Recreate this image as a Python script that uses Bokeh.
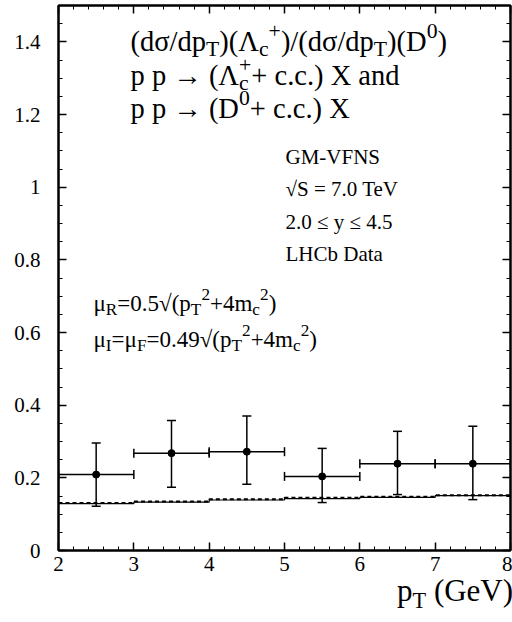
import glob
from bokeh.plotting import figure
from bokeh.models import (ColumnDataSource, Whisker, TeeHead, FixedTicker,
                          LinearAxis, Label, Range1d, Div)
from bokeh.layouts import column
from bokeh.embed import file_html
from bokeh.resources import INLINE

# ---------------- data ----------------
bin_lo = [2, 3, 4, 5, 6, 7]
bin_hi = [3, 4, 5, 6, 7, 8]
pt_center = [2.5, 3.5, 4.5, 5.5, 6.5, 7.5]
ratio = [0.209, 0.268, 0.272, 0.204, 0.239, 0.239]
err_up = [0.087, 0.090, 0.098, 0.077, 0.089, 0.103]
err_dn = [0.087, 0.094, 0.090, 0.072, 0.085, 0.099]

theory_edges = [2, 3, 4, 5, 6, 7, 8]
theory_solid = [0.129, 0.133, 0.139, 0.143, 0.146, 0.151]
theory_dashed = [0.131, 0.135, 0.141, 0.145, 0.148, 0.152]

x_ticks = [2, 3, 4, 5, 6, 7, 8]
x_tick_labels = ["2", "3", "4", "5", "6", "7", "8"]
y_ticks = [0, 0.2, 0.4, 0.6, 0.8, 1.0, 1.2, 1.4]
y_tick_labels = ["0", "0.2", "0.4", "0.6", "0.8", "1", "1.2", "1.4"]

FONT = "Liberation Serif"
X0, X1 = 2, 8
Y0, Y1 = 0, 1.5

# frame geometry (figure coords)
FL, FR, FT, FB = 58, 510, 5, 550
W, H = 512, 580

p = figure(width=W, height=H, output_backend="svg", toolbar_location=None,
           x_range=Range1d(X0, X1), y_range=Range1d(Y0, Y1),
           min_border_left=FL, min_border_right=W - FR, min_border_top=FT,
           min_border_bottom=H - FB)
p.grid.visible = False
p.background_fill_color = "white"
p.border_fill_color = "white"
p.outline_line_color = "black"
p.outline_line_width = 2

x_minor = [X0 + i * 0.2 for i in range(31)]
y_minor = [i * 0.05 for i in range(31)]


def style_axis(ax, ticks, minor, labels, show):
    ax.ticker = FixedTicker(ticks=ticks, minor_ticks=minor)
    ax.major_tick_in = 8
    ax.major_tick_out = 0
    ax.minor_tick_in = 4
    ax.minor_tick_out = 0
    ax.axis_line_color = "black"
    ax.axis_line_width = 2
    ax.major_tick_line_color = "black"
    ax.major_tick_line_width = 1.5
    ax.minor_tick_line_color = "black"
    ax.minor_tick_line_width = 1
    ax.major_label_text_font = FONT
    ax.major_label_text_font_style = "normal"
    ax.major_label_text_color = "black"
    if show:
        ax.major_label_overrides = {t: l for t, l in zip(ticks, labels)}
        ax.major_label_text_font_size = "21px"
    else:
        ax.major_label_overrides = {t: "" for t in ticks}
        ax.major_label_text_font_size = "0px"
        ax.major_label_standoff = 0


xa = p.xaxis[0]
ya = p.yaxis[0]
style_axis(xa, x_ticks, x_minor, x_tick_labels, True)
style_axis(ya, y_ticks, y_minor, y_tick_labels, True)
xa.major_label_standoff = 6
ya.major_label_standoff = 18

top = LinearAxis()
right = LinearAxis()
style_axis(top, x_ticks, x_minor, x_tick_labels, False)
style_axis(right, y_ticks, y_minor, y_tick_labels, False)
p.add_layout(top, "above")
p.add_layout(right, "right")

# ---------------- theory steps ----------------
p.step(theory_edges, theory_solid + [theory_solid[-1]], mode="after",
       line_color="black", line_width=1.2)
p.step(theory_edges, theory_dashed + [theory_dashed[-1]], mode="after",
       line_color="black", line_width=2, line_dash="4 3")

# ---------------- data points ----------------
src = ColumnDataSource(dict(
    x=pt_center, y=ratio, lo=bin_lo, hi=bin_hi,
    up=[r + e for r, e in zip(ratio, err_up)],
    dn=[r - e for r, e in zip(ratio, err_dn)]))

vw = Whisker(source=src, base="x", upper="up", lower="dn", dimension="height",
             line_color="black", line_width=1.5,
             upper_head=TeeHead(size=9, line_color="black", line_width=1.5),
             lower_head=TeeHead(size=9, line_color="black", line_width=1.5))
hw = Whisker(source=src, base="y", upper="hi", lower="lo", dimension="width",
             line_color="black", line_width=1.5,
             upper_head=TeeHead(size=9, line_color="black", line_width=1.5),
             lower_head=TeeHead(size=9, line_color="black", line_width=1.5))
p.add_layout(vw)
p.add_layout(hw)
p.scatter("x", "y", source=src, size=7, color="black")

# ---------------- rich text helpers ----------------
_font_path = None
for pat in ["/usr/share/fonts/**/LiberationSerif-Regular.ttf",
            "/usr/**/LiberationSerif-Regular.ttf"]:
    g = glob.glob(pat, recursive=True)
    if g:
        _font_path = g[0]
        break
_font_cache = {}


def text_width(t, size):
    try:
        from PIL import ImageFont
        key = round(size * 4)
        if key not in _font_cache:
            _font_cache[key] = ImageFont.truetype(_font_path, key)
        return _font_cache[key].getlength(t) / 4.0
    except Exception:
        return 0.5 * size * len(t)


PX_PER_X = (FR - FL) / (X1 - X0)
PX_PER_Y = (FB - FT) / (Y1 - Y0)


def page_to_data(px, py):
    return X0 + (px - FL) / PX_PER_X, Y0 + (FB - py) / PX_PER_Y


def rich(px, py, segs, size, ss=0.72):
    x, y = page_to_data(px, py)
    cur = 0.0
    for seg in segs:
        if isinstance(seg, str):
            t, kind, adv = seg, "n", True
        else:
            t, kind = seg[0], seg[1]
            adv = seg[2] if len(seg) > 2 else True
        if kind == "n":
            fs, dy = size, 0
        elif kind == "sub":
            fs, dy = size * ss, -0.28 * size
        else:
            fs, dy = size * ss, 0.38 * size
        p.add_layout(Label(x=x, y=y, x_offset=cur, y_offset=dy, text=t,
                           text_font=FONT, text_font_size=f"{fs:.1f}px",
                           text_color="black", text_baseline="alphabetic",
                           text_align="left"))
        if adv:
            cur += text_width(t, fs)


BIG = 28.5
rich(130, 41, ["(dσ/dp", ("T", "sub"), ")(Λ", ("c", "sub"), ("+", "sup"),
               ")/(dσ/dp", ("T", "sub"), ")(D", ("0", "sup"), ")"], BIG, 0.76)
rich(130, 75, ["p p → (Λ", ("c", "sub", False), ("+", "sup"),
               " + c.c.) X and"], BIG, 0.76)
rich(130, 108, ["p p → (D", ("0", "sup"), "+ c.c.) X"], BIG, 0.76)

SMALL = 21
rich(285, 156, ["GM-VFNS"], SMALL)
rich(285, 188, ["√S = 7.0 TeV"], SMALL)
rich(285, 221, ["2.0 ≤  y ≤ 4.5"], SMALL)
rich(285, 253, ["LHCb Data"], SMALL)

MU = 23
rich(93, 303, ["μ", ("R", "sub"), "=0.5√(p", ("T", "sub"), ("2", "sup"),
               "+4m", ("c", "sub"), ("2", "sup"), ")"], MU, 0.75)
rich(93, 339, ["μ", ("I", "sub"), "=μ", ("F", "sub"), "=0.49√(p",
               ("T", "sub"), ("2", "sup"), "+4m", ("c", "sub"),
               ("2", "sup"), ")"], MU, 0.75)

xlabel = Div(
    text=("<span style=\"font-family: 'Liberation Serif', 'Times New Roman', "
          "serif; font-size: 31px; color: black; line-height: 26px; "
          "position: relative; top: -7px;\">"
          "p<sub style='font-size:72%'>T</sub> (GeV)</span>"),
    width=W, height=42,
    styles={"padding-left": "392px", "line-height": "26px"})

layout = column(p, xlabel, spacing=0)
open("out.html", "w").write(file_html(layout, INLINE))
